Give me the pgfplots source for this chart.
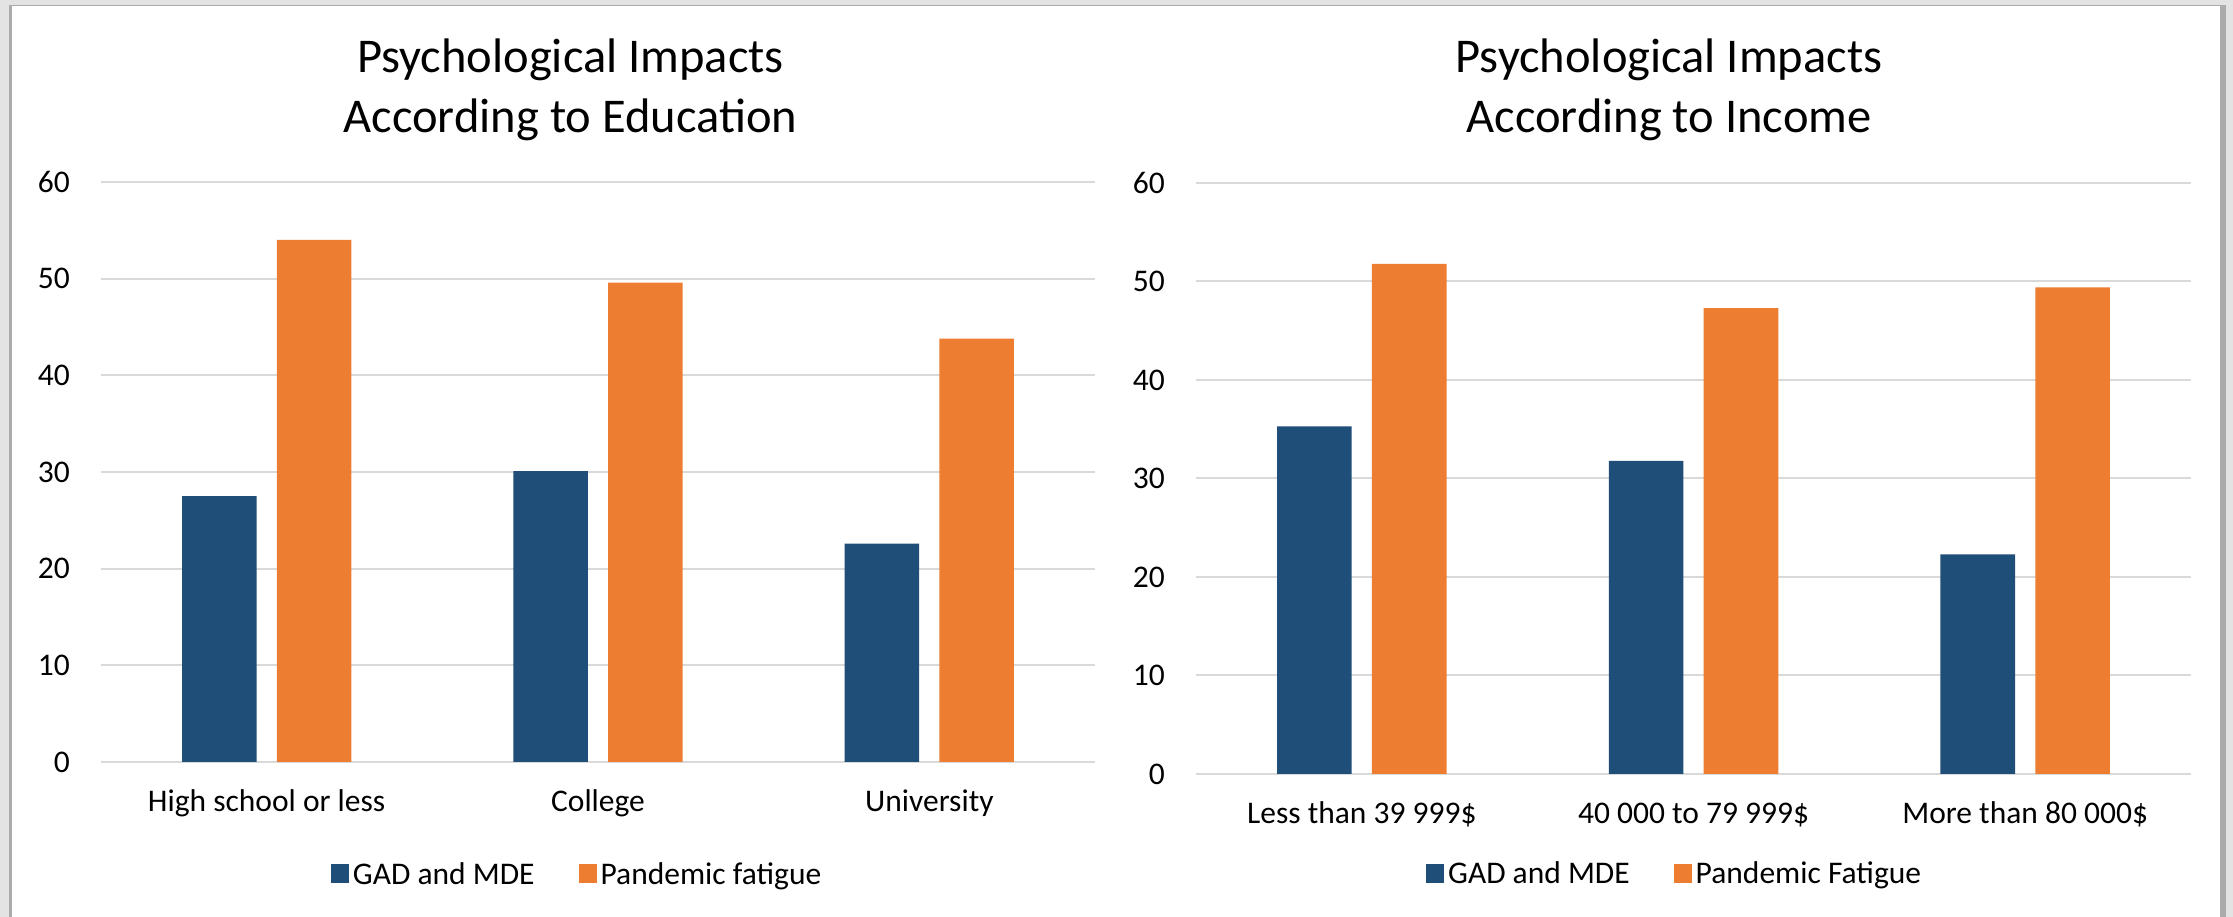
\documentclass[border=0pt]{standalone}
\usepackage{pgfplots}
\usepackage{pgfplotstable}
\pgfplotsset{compat=1.18}
\usepackage{fontspec}
\setmainfont{Carlito}

\definecolor{gadblue}{HTML}{1F4E79}
\definecolor{fatorange}{HTML}{ED7D31}
\definecolor{gridgray}{HTML}{D9D9D9}
\definecolor{pagegray}{HTML}{E3E3E3}
\definecolor{edgegray}{HTML}{ABABAB}

% Education groups: GAD/MDE share and pandemic fatigue share
\pgfplotstableread{
x gad fat
0 27.5 54.0
1 30.1 49.6
2 22.6 43.8
}\edu

% Income groups
\pgfplotstableread{
x gad fat
0 35.3 51.8
1 31.8 47.3
2 22.3 49.4
}\inc

\newcommand{\tickfont}{\fontsize{31.5}{38}\selectfont}
\newcommand{\titlefont}{\fontsize{48.5}{60}\selectfont}

\pgfplotsset{
  panel/.style={
    scale only axis,
    anchor=south west,
    xmin=-0.5, xmax=2.5,
    ymin=0, ymax=60,
    ytick={0,10,...,60},
    xtick=data,
    axis line style={draw=none},
    major tick length=0pt,
    ymajorgrids,
    major grid style={draw=gridgray, line width=2pt},
    clip=false,
    /pgf/number format/assume math mode=true,
    tick label style={font=\tickfont, inner sep=0pt},
    yticklabel style={anchor=east, xshift=-31pt},
    xticklabel style={anchor=base, yshift=-50pt},
    legend columns=2,
    legend style={draw=none, fill=none, font=\tickfont, anchor=center,
      /tikz/every even column/.append style={column sep=40pt},
      nodes={inner sep=4pt}},
  },
  gadbar/.style={ybar, fill=gadblue, draw=none, bar width=0.225, bar shift=-0.143,
    legend image code/.code={\fill[gadblue] (0pt,-9.5pt) rectangle (18pt,9.5pt);}},
  fatbar/.style={ybar, fill=fatorange, draw=none, bar width=0.225, bar shift=0.143,
    legend image code/.code={\fill[fatorange] (0pt,-9.5pt) rectangle (18pt,9.5pt);}},
}

\begin{document}
\begin{tikzpicture}[x=1pt, y=1pt]
  \useasboundingbox (0,0) rectangle (2233,917);
  % page background and chart frame
  \fill[pagegray] (0,0) rectangle (2233,917);
  \fill[edgegray] (9,0) rectangle (2226,912);
  \fill[white] (12,0) rectangle (2220,911);

  \begin{axis}[panel,
      at={(101pt,155pt)}, width=994pt, height=580pt,
      xticklabels={High school or less, College, University},
      legend style={at={(0.48,-0.193)}}]
    \addplot[gadbar] table[x=x, y=gad] {\edu};
    \addlegendentry{GAD and MDE}
    \addplot[fatbar] table[x=x, y=fat] {\edu};
    \addlegendentry{Pandemic fatigue}
  \end{axis}

  \begin{axis}[panel,
      at={(1196pt,143pt)}, width=995pt, height=591pt,
      xticklabels={Less than 39 999\$, 40 000 to 79 999\$, More than 80 000\$},
      legend style={at={(0.482,-0.168)}}]
    \addplot[gadbar] table[x=x, y=gad] {\inc};
    \addlegendentry{GAD and MDE}
    \addplot[fatbar] table[x=x, y=fat] {\inc};
    \addlegendentry{Pandemic Fatigue}
  \end{axis}

  % chart titles
  \node[font=\titlefont, anchor=base] at (570.5,844) {Psychological Impacts};
  \node[font=\titlefont, anchor=base] at (570.5,784) {According to Education};
  \node[font=\titlefont, anchor=base] at (1669,844) {Psychological Impacts};
  \node[font=\titlefont, anchor=base] at (1669,784) {According to Income};
\end{tikzpicture}
\end{document}
